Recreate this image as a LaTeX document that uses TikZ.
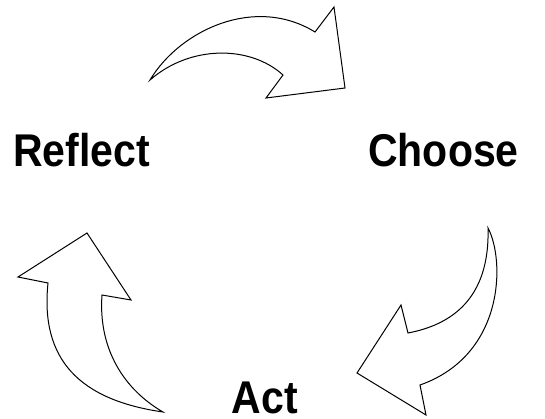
\documentclass[tikz,border=0pt]{standalone}
\usepackage{fontspec}
\setmainfont{Liberation Sans}
\usepackage{tikz}
\newcommand{\stepName}[1]{\scalebox{1}[1.12]{\bfseries #1}}

\begin{document}
\begin{tikzpicture}[x=1pt,y=-1pt,line width=1pt,line join=miter,
    every node/.style={anchor=base,inner sep=0pt,font=\fontsize{41}{48}\selectfont},
    turn/.style={draw=black,fill=white}]
      \useasboundingbox (0,0) rectangle (545,419);
      \node (reflect) at (81.5,167) {\stepName{Reflect}};
      \node (choose) at (443.5,167) {\stepName{Choose}};
      \node (act) at (265,413) {\stepName{Act}};
      % reflect to choose
      \draw[turn] (150,80) .. controls (180,30) and (255,-5) .. (315,32)
      -- (334,7) -- (345,88) -- (266,98) -- (283,75)
      .. controls (250,45) and (190,45) .. cycle;
      % choose to act
      \draw[turn] (488,228) .. controls (505,260) and (505,355) .. (420,385)
      -- (426,415) -- (357,373) -- (401,305) -- (408,333)
      .. controls (450,325) and (490,300) .. cycle;
      % act to reflect
      \draw[turn] (163,412) .. controls (80,400) and (40,360) .. (48,283)
      -- (18,277) -- (87,233) -- (131,300) -- (102,295)
      .. controls (98,350) and (125,390) .. cycle;
    \end{tikzpicture}
\end{document}
